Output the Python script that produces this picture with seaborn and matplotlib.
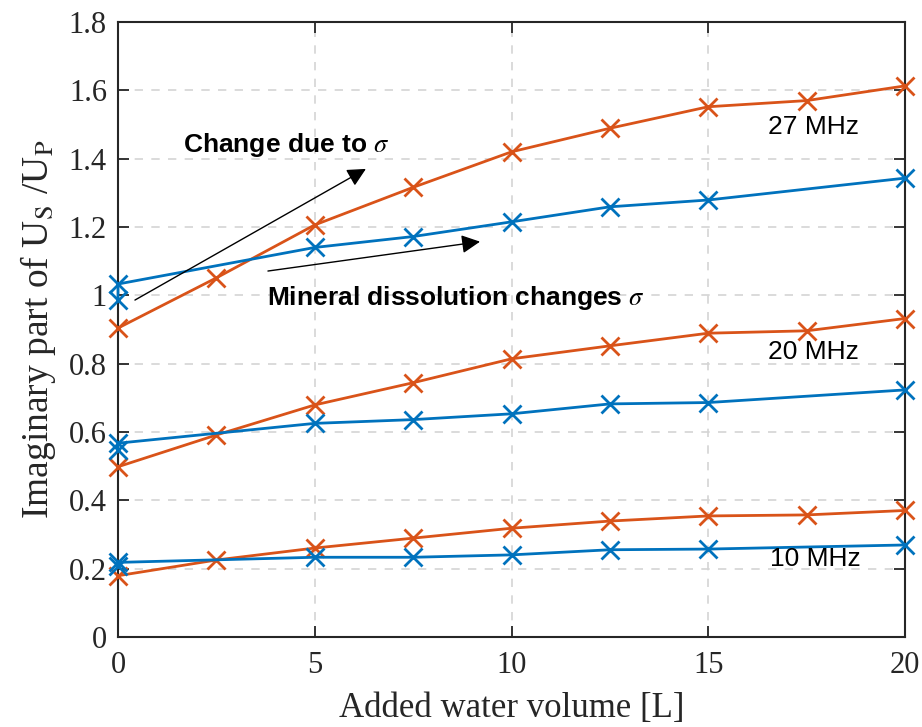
import pandas as pd
import seaborn as sns
import matplotlib.pyplot as plt

# Data
vol_meas = [0, 2.5, 5, 7.5, 10, 12.5, 15, 17.5, 20]
vol_sim = [0, 0, 5, 7.5, 10, 12.5, 15, 20]

meas_27 = [0.904, 1.051, 1.206, 1.316, 1.420, 1.489, 1.552, 1.570, 1.613]
meas_20 = [0.498, 0.591, 0.679, 0.744, 0.814, 0.852, 0.889, 0.896, 0.932]
meas_10 = [0.179, 0.225, 0.260, 0.289, 0.318, 0.339, 0.354, 0.357, 0.370]

sim_27 = [0.986, 1.033, 1.140, 1.172, 1.215, 1.259, 1.279, 1.343]
sim_20 = [0.547, 0.567, 0.625, 0.636, 0.653, 0.682, 0.686, 0.723]
sim_10 = [0.206, 0.218, 0.233, 0.233, 0.240, 0.255, 0.257, 0.269]

freq_labels = ["27 MHz", "20 MHz", "10 MHz"]
label_pos = [(16.52, 1.494), (16.52, 0.835), (16.57, 0.227)]

# Build long table
frames = []
for f, m, s in zip(freq_labels, [meas_27, meas_20, meas_10], [sim_27, sim_20, sim_10]):
    frames.append(pd.DataFrame({"volume": vol_meas, "imag": m, "kind": "meas", "line": f + " meas"}))
    frames.append(pd.DataFrame({"volume": vol_sim, "imag": s, "kind": "sim", "line": f + " sim"}))
df = pd.concat(frames, ignore_index=True)

sns.set_style("ticks")
plt.rcParams["font.family"] = ["Liberation Serif", "DejaVu Serif"]
plt.rcParams["mathtext.fontset"] = "stix"

fig = plt.figure(figsize=(9.22, 7.27), dpi=100)
ax = fig.add_axes([0.128, 0.124, 0.8536, 0.8457])

sns.lineplot(
    data=df,
    x="volume",
    y="imag",
    hue="kind",
    units="line",
    estimator=None,
    sort=False,
    palette={"meas": "#D95319", "sim": "#0072BD"},
    marker="x",
    markersize=13,
    markeredgewidth=2,
    linewidth=2,
    legend=False,
    ax=ax,
    clip_on=False,
    zorder=3,
)
# seaborn draws white marker edges; use the line colour instead
for ln in ax.lines:
    ln.set_markeredgecolor(ln.get_color())

ax.set_xlim(0, 20)
ax.set_ylim(0, 1.8)
ax.set_xticks([0, 5, 10, 15, 20])
ax.set_yticks([0, 0.2, 0.4, 0.6, 0.8, 1.0, 1.2, 1.4, 1.6, 1.8])
ax.set_yticklabels(["0", "0.2", "0.4", "0.6", "0.8", "1", "1.2", "1.4", "1.6", "1.8"])
ax.grid(True, linestyle=(0, (5, 5)), color="#d4d4d4", linewidth=1.2)
ax.tick_params(direction="in", length=8, width=1.3, labelsize=22,
               top=True, right=True, colors="#262626", labelcolor="#262626")
ax.tick_params(axis="x", pad=10)
ax.tick_params(axis="y", pad=8)
for sp in ax.spines.values():
    sp.set_linewidth(1.5)
    sp.set_color("#262626")
    sp.set_visible(True)

ax.set_xlabel("Added water volume [L]", fontsize=25, color="#262626", labelpad=9)
ax.set_ylabel(r"Imaginary part of U$_\mathrm{S}$ /U$_\mathrm{P}$", fontsize=27,
              color="#262626", labelpad=8)

for lab, (lx, ly) in zip(freq_labels, label_pos):
    ax.text(lx, ly, lab, fontsize=19, family="Liberation Sans", va="center", ha="left",
            color="black")

ax.text(1.65, 1.44, r"Change due to $\sigma$", fontsize=19, family="Liberation Sans",
        fontweight="bold", va="center", ha="left", color="black")
ax.text(3.79, 0.992, r"Mineral dissolution changes $\sigma$", fontsize=19,
        family="Liberation Sans", fontweight="bold", va="center", ha="left", color="black")

arrow = dict(arrowstyle="-|>", color="black", lw=1, mutation_scale=28, shrinkA=0, shrinkB=0)
ax.annotate("", xy=(6.3, 1.37), xytext=(0.43, 0.986), arrowprops=arrow)
ax.annotate("", xy=(9.2, 1.157), xytext=(3.81, 1.071), arrowprops=arrow)

fig.savefig("out.png", dpi=100)
